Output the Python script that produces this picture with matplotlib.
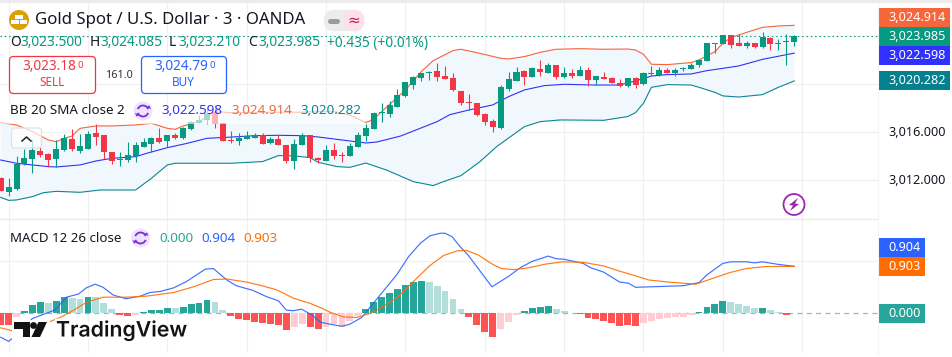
# Gold spot 3 minute chart with Bollinger bands and MACD pane
import numpy as np
from matplotlib import pyplot as plt
from matplotlib.patches import Arc, Circle, FancyBboxPatch, Polygon, Rectangle
import matplotlib.patheffects as pe

open_p = [3012.17,3011.06,3011.25,3013.36,3013.78,3014.42,3014.19,3013.78,3014.53,3015.42,
          3014.47,3014.64,3015.92,3015.78,3014.33,3013.67,3013.69,3014.03,3014.81,3015.06,
          3015.50,3015.28,3015.78,3015.53,3016.31,3016.81,3017.03,3017.72,3016.81,3015.36,
          3015.25,3015.47,3015.56,3015.75,3015.08,3015.44,3014.94,3013.64,3014.92,3015.75,
          3013.89,3013.64,3014.53,3014.11,3014.03,3014.81,3015.69,3016.31,3017.61,3017.53,
          3018.14,3019.03,3019.94,3020.53,3020.97,3021.11,3020.69,3020.53,3019.44,3018.50,
          3018.42,3017.53,3016.94,3016.39,3019.61,3020.31,3021.08,3020.61,3021.25,3020.94,
          3021.58,3020.58,3020.92,3020.69,3021.19,3020.36,3020.61,3020.53,3020.11,3019.86,
          3020.53,3020.03,3020.94,3020.75,3021.17,3020.94,3021.25,3021.28,3021.61,3021.94,
          3023.36,3023.39,3024.08,3023.44,3023.19,3023.42,3023.11,3023.86,3023.39,3023.56,
          3023.50]
close_p = [3011.14,3011.44,3013.39,3013.86,3014.53,3014.08,3013.69,3014.61,3015.53,3014.61,
           3014.86,3015.86,3015.61,3014.39,3013.64,3013.72,3014.11,3014.94,3015.17,3015.53,
           3015.19,3015.78,3015.56,3016.36,3016.83,3017.03,3017.58,3016.69,3015.31,3015.28,
           3015.53,3015.69,3015.81,3015.06,3015.44,3014.97,3013.61,3015.03,3015.78,3013.89,
           3013.69,3014.53,3014.03,3014.06,3014.86,3015.78,3016.36,3017.61,3017.67,3018.25,
           3019.11,3020.19,3020.58,3020.94,3021.06,3020.58,3020.44,3019.53,3018.44,3018.44,
           3017.44,3016.86,3016.44,3019.75,3020.42,3021.03,3020.61,3021.39,3021.03,3021.61,
           3020.58,3020.94,3020.67,3021.19,3020.36,3020.67,3020.47,3020.14,3019.86,3020.53,
           3019.94,3020.97,3020.89,3021.17,3020.94,3021.19,3021.31,3021.61,3022.03,3023.44,
           3023.42,3024.11,3023.28,3023.22,3023.42,3023.11,3023.97,3023.36,3023.44,3023.61,
           3023.985]
high_p = [3012.31,3012.22,3014.03,3014.61,3015.36,3014.75,3014.25,3015.36,3015.86,3016.25,
          3015.86,3016.14,3016.69,3015.78,3014.39,3014.39,3015.17,3015.22,3015.50,3015.64,
          3016.33,3015.78,3015.97,3016.47,3016.97,3017.44,3018.00,3018.28,3016.89,3016.11,
          3015.92,3016.11,3015.92,3015.92,3015.58,3015.78,3014.94,3015.47,3015.97,3015.75,
          3013.97,3014.92,3015.08,3014.36,3015.08,3016.03,3016.69,3017.69,3018.42,3018.58,
          3019.61,3020.22,3020.69,3020.94,3021.14,3021.75,3021.53,3020.94,3019.44,3019.19,
          3018.47,3017.58,3017.08,3019.94,3021.03,3021.42,3021.19,3021.47,3022.03,3021.75,
          3021.61,3021.42,3021.25,3021.53,3021.47,3020.69,3021.03,3020.58,3020.42,3020.53,
          3020.61,3021.03,3021.53,3021.42,3021.33,3021.33,3021.47,3021.75,3022.08,3023.44,
          3023.47,3024.11,3024.11,3024.19,3023.58,3023.44,3024.33,3023.92,3023.81,3024.17,
          3024.085]
low_p = [3011.14,3010.69,3011.19,3013.28,3012.64,3013.97,3013.14,3013.08,3014.47,3014.47,
         3014.31,3014.58,3014.97,3013.75,3013.36,3013.22,3013.56,3013.56,3014.75,3014.39,
         3015.14,3014.81,3015.42,3015.47,3016.19,3016.81,3016.69,3016.33,3015.31,3015.14,
         3014.92,3015.47,3015.50,3015.03,3015.03,3014.97,3013.47,3012.92,3014.92,3013.56,
         3013.42,3013.64,3013.81,3013.53,3014.03,3014.81,3015.31,3016.31,3016.86,3017.25,
         3018.14,3018.97,3019.61,3020.31,3020.39,3020.31,3020.42,3019.47,3018.28,3017.86,
         3017.36,3016.64,3016.03,3016.28,3019.47,3020.28,3019.94,3020.58,3020.69,3020.94,
         3020.44,3020.56,3020.50,3020.69,3019.86,3019.94,3020.44,3020.11,3019.81,3019.75,
         3019.69,3019.97,3020.69,3020.69,3020.94,3020.69,3021.08,3021.28,3021.44,3021.94,
         3022.61,3023.39,3023.03,3023.22,3023.03,3023.03,3023.03,3022.86,3022.86,3021.64,
         3023.21]

# bollinger bands, read at the bars where the line bends
upper_bars = [0,2,4,6,7,8,9,10,12,14,17,19,21,22,23,25,27,29,33,37,40,42,44,46,47,48,51,53,54.5,57,58,60,63,64,66,68,70,73,76,79,80,81,82,84,87,88,90,91,92,93,94,96,98,100]
upper_band = [3016.81,3016.61,3016.06,3015.36,3015.22,3015.50,3015.69,3016.33,3016.53,3016.53,3016.61,3016.75,3016.33,3016.25,3016.53,3016.89,3017.72,3017.64,3017.67,3017.67,3017.72,3017.72,3017.44,3016.81,3017.08,3017.72,3019.53,3021.06,3021.97,3022.81,3022.92,3022.64,3022.17,3022.11,3022.31,3022.67,3022.92,3022.97,3022.92,3022.94,3022.86,3022.50,3021.67,3021.64,3021.81,3022.03,3022.72,3023.42,3023.89,3024.11,3024.33,3024.75,3024.86,3024.914]
basis_bars = [0,2,4,6,7,10,12,14,17,18.4,21,23.5,26,28.5,32,35,38,40,43,46,47.4,50.4,55,56.6,59,62,64,66,68.5,71,75,78,80,82,84,87,89,91,93,96,100]
basis_band = [3013.69,3013.42,3013.28,3013.14,3013.11,3013.28,3013.61,3013.83,3013.97,3014.25,3014.72,3015.08,3015.50,3015.58,3015.72,3015.75,3015.72,3015.61,3015.36,3015.11,3015.19,3015.69,3016.89,3017.47,3017.86,3018.28,3018.97,3019.53,3019.89,3020.00,3019.94,3019.94,3020.28,3020.69,3020.81,3020.86,3021.14,3021.33,3021.53,3022.08,3022.598]
lower_bars = [0,1,2,4,5.4,7,10,12.5,15,17,19,21,22,25,29,33,35,37,39,40,42.4,44,46,48.6,52,54.5,55.8,58,60.4,62.5,66,68,70.5,76,79,80,81,82,84,87,88,90,91,93,96,98,100]
lower_band = [3010.58,3010.33,3010.36,3010.64,3010.97,3011.08,3011.00,3011.19,3011.19,3011.19,3012.17,3013.28,3013.42,3013.42,3013.42,3013.56,3014.06,3014.03,3013.89,3013.50,3013.14,3013.08,3013.44,3012.86,3011.89,3011.56,3011.89,3012.39,3013.56,3014.81,3016.47,3016.89,3017.03,3017.00,3017.31,3017.64,3018.42,3019.75,3019.97,3019.94,3019.75,3019.33,3019.03,3018.94,3019.14,3019.75,3020.282]

hist_vals = [-0.22,-0.22,-0.08,0.04,0.16,0.22,0.19,0.24,0.31,0.30,0.28,0.31,0.31,0.19,0.09,-0.03,-0.05,-0.03,0.03,0.06,
             0.06,0.10,0.10,0.12,0.18,0.20,0.26,0.21,0.06,-0.05,-0.11,-0.13,-0.16,-0.19,-0.21,-0.23,-0.32,-0.27,-0.20,-0.26,
             -0.30,-0.26,-0.21,-0.26,-0.14,-0.05,0.09,0.22,0.31,0.39,0.47,0.54,0.60,0.62,0.60,0.53,0.43,0.28,0.08,-0.07,
             -0.22,-0.36,-0.46,-0.30,-0.17,-0.03,0.04,0.10,0.12,0.14,0.08,0.04,0.01,-0.01,-0.09,-0.11,-0.15,-0.19,-0.24,-0.22,
             -0.24,-0.18,-0.15,-0.11,-0.09,-0.07,-0.07,-0.03,0.03,0.12,0.18,0.24,0.22,0.18,0.14,0.10,0.10,0.06,0.03,-0.03,
             0.01]
# bars drawn in the pale shade
hist_pale = [2,6,9,10,12,13,14,17,22,27,28,37,38,41,42,43,44,45,54,55,56,57,58,63,64,65,70,71,72,81,82,83,84,85,86,87,92,93,94,95,97,98]

macd_bars = [0,1,2,3,4,6.8,8.3,9.8,10.8,11.9,12.9,14.2,15.8,17.6,18.8,20.1,21.8,23.4,25.8,26.8,28.5,29.7,31.8,33.5,35,36,36.9,37.9,39.2,40.3,41.5,43,44,45.5,47.8,49.9,51.4,52.9,54.1,55.4,56,56.9,57.9,58.9,61.9,64,65.5,67,69,70,71,73.4,74.3,76,78,79.1,80,82,86,88,89,91,92,94,95,96,98,100]
macd_vals = [-0.46,-0.54,-0.42,-0.26,-0.10,0.06,0.31,0.37,0.49,0.56,0.50,0.35,0.28,0.33,0.40,0.42,0.49,0.61,0.85,0.86,0.64,0.53,0.44,0.32,0.24,0.06,0.05,0.08,-0.03,-0.17,-0.21,-0.25,-0.21,-0.08,0.35,0.74,1.09,1.35,1.49,1.54,1.54,1.47,1.28,1.12,0.51,0.71,0.88,1.00,1.10,1.05,1.04,0.96,0.88,0.79,0.60,0.58,0.50,0.51,0.53,0.59,0.74,0.96,0.99,0.99,0.97,0.99,0.94,0.904]
signal_bars = [0,1.6,3,5,6.2,7.5,9.2,10.8,12.9,15.9,18.4,21.8,24.3,26.8,28.5,31,32.7,34.8,36.9,39,40.3,41.5,43.2,44.9,46.6,48.2,50.1,52.4,54.1,55.8,57.5,58.7,60.2,61.9,63.1,64.6,66.3,68.8,70.9,73.4,76,78,80,81.7,84.2,87.6,89.7,91.8,93.9,96.4,100]
signal_vals = [-0.28,-0.34,-0.32,-0.24,-0.16,-0.08,0.06,0.21,0.31,0.31,0.33,0.40,0.51,0.65,0.66,0.60,0.54,0.45,0.29,0.19,0.11,0.02,-0.07,-0.08,0.00,0.13,0.32,0.67,0.92,1.11,1.20,1.21,1.12,0.95,0.86,0.84,0.87,0.95,0.99,0.98,0.91,0.81,0.72,0.64,0.60,0.56,0.67,0.78,0.86,0.90,0.903]

price_ticks = [3012, 3016, 3020, 3024]
time_grid = list(range(1, 102, 10))

GREEN, RED = "#089981", "#f23645"
FONT = "Noto Sans"
W, H = 952, 357
BAR_PX = 7.936

plt.rcParams['font.family'] = [FONT, 'DejaVu Sans']
fig = plt.figure(figsize=(W/100, H/100), dpi=100, facecolor="white")

def pane(top, bottom):
    a = fig.add_axes([0, 1-bottom/H, 878/W, (bottom-top)/H])
    a.set_xlim(-0.67/BAR_PX, (878-0.67)/BAR_PX)
    a.axis("off")
    return a

ax = pane(3, 219)
ax.set_ylim(3016+(132.3-219)/12, 3016+(132.3-3)/12)
for b in time_grid:
    ax.axvline(b, color="#f0f0f0", lw=0.9, zorder=0)
for p in price_ticks:
    ax.axhline(p, color="#f0f0f0", lw=0.9, zorder=0)

# band fill, up one side and back down the other
ax.fill(np.r_[upper_bars, lower_bars[::-1]], np.r_[upper_band, lower_band[::-1]], color="#f0f8fe", lw=0, zorder=1)
ax.plot(upper_bars, upper_band, color="#f7653b", lw=0.8, zorder=2)
ax.plot(basis_bars, basis_band, color="#3232f5", lw=0.8, zorder=2)
ax.plot(lower_bars, lower_band, color="#0a8595", lw=0.8, zorder=2)

bars = np.arange(len(open_p))
op, cl = np.array(open_p), np.array(close_p)
cols = [GREEN if c >= o else RED for o, c in zip(op, cl)]
ax.vlines(bars, low_p, high_p, colors=cols, lw=0.8, zorder=3)
ax.bar(bars, np.maximum(np.abs(cl-op), 0.08), bottom=np.minimum(op, cl), width=0.76, color=cols, lw=0, zorder=3)
ax.axhline(close_p[-1], color=GREEN, lw=0.8, ls=(0, (1.3, 2.6)), zorder=4)

ax2 = pane(219, 353)
ax2.set_ylim((313.3-353)/52, (313.3-219)/52)
for b in time_grid:
    ax2.axvline(b, color="#f0f0f0", lw=0.9, zorder=0)
ax2.axhline(1.0, color="#f0f0f0", lw=0.9, zorder=0)
ax2.axhline(0, color="#b0b0b0", lw=0.9, ls=(0, (4, 3.5)), zorder=1)
hist_cols = []
for i, v in enumerate(hist_vals):
    if v >= 0:
        hist_cols.append("#b2dfdb" if i in hist_pale else "#26a69a")
    else:
        hist_cols.append("#ffcdd2" if i in hist_pale else "#ff5252")
ax2.bar(bars, hist_vals, width=0.86, color=hist_cols, lw=0, zorder=2)
ax2.plot(macd_bars, macd_vals, color="#2962ff", lw=0.85, zorder=3, alpha=0.9)
ax2.plot(signal_bars, signal_vals, color="#ff6d00", lw=0.85, zorder=3, alpha=0.9)

# everything drawn on top of the panes is placed in screen pixels
ov = fig.add_axes([0, 0, 1, 1])
ov.set_xlim(0, W)
ov.set_ylim(H, 0)
ov.axis("off")
ov.add_patch(Rectangle((0, 0), W, 3, color="#ebebeb", lw=0))
ov.plot([0, 878], [219, 219], color="#ececec", lw=1)
ov.plot([878, 878], [3, 353], color="#f4f4f4", lw=0.8)
ov.add_patch(Rectangle((0, 103), 365, 21, color="white", alpha=0.62, lw=0))

DARK = "#131722"
def label(x, y, s, color=DARK, size=9.8, **kw):
    ov.text(x, y, s, color=color, fontsize=size, va="center", ha=kw.pop("ha", "left"), **kw)

# header
ov.add_patch(Circle((19, 20), 10, color="#dd9f06", lw=0))
ov.add_patch(Rectangle((15, 14.5), 8, 4.5, color="white", lw=0))
ov.add_patch(Rectangle((11, 20), 7.5, 4, color="white", lw=0))
ov.add_patch(Rectangle((19.5, 20), 7.5, 4, color="white", lw=0))
label(35, 20, "Gold Spot / U.S. Dollar · 3 · OANDA", size=12.1)

ov.add_patch(FancyBboxPatch((328, 14), 32, 13, boxstyle="round,pad=0,rounding_size=6", fc="#ececec", ec="#ececec", lw=6))
ov.add_patch(Rectangle((344, 11), 16, 19, color="#fce0ea", lw=0))
ov.add_patch(FancyBboxPatch((350, 14), 10, 13, boxstyle="round,pad=0,rounding_size=6", fc="#fce0ea", ec="#fce0ea", lw=6))
ov.plot([330, 337], [21, 21], color="#9b9b9b", lw=3.6, solid_capstyle="round")
label(354, 20.5, "≈", color="#c2185b", size=11, ha="center", family="DejaVu Sans")

# ohlc row
row_y = 43
for x_key, x_val, key, val in [(10, 20, "O", "3,023.500"), (90, 100, "H", "3,024.085"),
                               (169, 178, "L", "3,023.210"), (248, 258, "C", "3,023.985")]:
    label(x_key, row_y, key, size=9.9)
    label(x_val, row_y, val, color=GREEN, size=9.9)
label(327, row_y, "+0.435 (+0.01%)", color=GREEN, size=9.9)

# sell and buy boxes
ov.add_patch(FancyBboxPatch((9.5, 56.5), 86, 37, boxstyle="round,pad=0,rounding_size=4", fc="white", ec=RED, lw=0.9))
ov.add_patch(FancyBboxPatch((141.5, 56.5), 85, 37, boxstyle="round,pad=0,rounding_size=4", fc="white", ec="#2962ff", lw=0.9))
label(22, 67, "3,023.18", color=RED)
label(77, 65.5, "0", color=RED, size=7)
label(52.5, 82, "SELL", color=RED, size=8.5, ha="center")
label(154, 67, "3,024.79", color="#2962ff")
label(209, 65.5, "0", color="#2962ff", size=7)
label(183.5, 82, "BUY", color="#2962ff", size=8.5, ha="center")
label(118.5, 75, "161.0", size=7.8, ha="center", color="#333333")

# indicator legends
label(10, 111, "BB 20 SMA close 2", size=9.7)
label(161, 111, "3,022.598", color="#3232f5", size=9.7)
label(231, 111, "3,024.914", color="#f7653b", size=9.7)
label(300, 111, "3,020.282", color="#0a8595", size=9.7)
label(10, 238, "MACD 12 26 close", size=9.6)
label(159, 238, "0.000", color="#26a69a", size=9.7)
label(201, 238, "0.904", color="#2962ff", size=9.7)
label(243, 238, "0.903", color="#ff6d00", size=9.7)

for cx, cy in [(143, 111), (140.5, 238)]:
    ov.add_patch(Circle((cx, cy), 9.5, color="#ede4fb", lw=0))
    ov.add_patch(Arc((cx, cy), 11, 11, theta1=200, theta2=340, color="#7a2be2", lw=1.3))
    ov.add_patch(Arc((cx, cy), 11, 11, theta1=20, theta2=160, color="#7a2be2", lw=1.3))
    ov.add_patch(Polygon([(cx+3.5, cy-4), (cx+8, cy-2), (cx+6.5, cy-5.5)], color="#7a2be2", lw=0))
    ov.add_patch(Polygon([(cx-3.5, cy+4), (cx-8, cy+2), (cx-6.5, cy+5.5)], color="#7a2be2", lw=0))

# collapse button
ov.add_patch(FancyBboxPatch((11.5, 128), 30, 20, boxstyle="round,pad=0,rounding_size=3", fc=(1, 1, 1, 0.7), ec="#e2e2e2", lw=0.9))
ov.plot([22, 26.5, 31], [141, 137, 141], color="#222222", lw=1.1)

# lightning badge
ov.add_patch(Circle((794, 204.5), 10.5, fc="white", ec="#9c27b0", lw=1.3))
ov.add_patch(Polygon([(798, 198), (789, 205), (793, 205.5), (790, 211), (799, 204), (795, 203.5)], color="#9c27b0", lw=0))

# right hand price scale
def tag(y0, y1, s, color, x1=949.5):
    ov.add_patch(Rectangle((878, y0), x1-878, y1-y0, color=color, lw=0))
    ov.text(x1-4, (y0+y1)/2, s, color="white", fontsize=9.1, va="center", ha="right")

tag(8, 27, "3,024.914", "#f7653b")
tag(27, 46, "3,023.985", GREEN)
tag(46, 65, "3,022.598", "#3030ff")
tag(71, 90, "3,020.282", "#06808f")
tag(238, 257, "0.904", "#2962ff", 925)
tag(257, 276, "0.903", "#ff6d00", 925)
tag(304, 323, "0.000", "#26a69a", 925)
ov.text(945.5, 132, "3,016.000", color=DARK, fontsize=9.1, va="center", ha="right")
ov.text(945.5, 180, "3,012.000", color=DARK, fontsize=9.1, va="center", ha="right")

# tradingview mark
halo = [pe.withStroke(linewidth=3.5, foreground="white")]
ov.add_patch(Rectangle((12, 320), 38, 19, color="white", lw=0))
ov.add_patch(Polygon([(14, 322), (30, 322), (30, 337), (22.5, 337), (22.5, 328.5), (14, 328.5)], color="#131313", lw=0))
ov.add_patch(Circle((33.5, 325.5), 3.4, color="#131313", lw=0))
ov.add_patch(Polygon([(38.5, 322), (47, 322), (40, 337), (31.5, 337)], color="#131313", lw=0))
ov.text(56, 330, "TradingView", color="#131313", fontsize=15.3, weight="semibold", va="center", ha="left",
        family="Inter", path_effects=halo)

plt.savefig("out.png", dpi=100)
